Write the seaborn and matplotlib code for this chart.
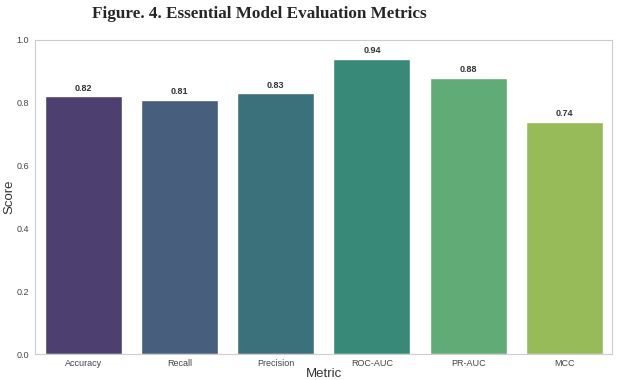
import matplotlib
matplotlib.use("Agg")
import matplotlib.pyplot as plt
import seaborn as sns
import pandas as pd

metrics = ["Accuracy", "Recall", "Precision", "ROC-AUC", "PR-AUC", "MCC"]
scores = [0.82, 0.81, 0.83, 0.94, 0.88, 0.74]

sns.set_style("whitegrid")
plt.rcParams['font.family'] = ['Liberation Sans', 'DejaVu Sans']

df = pd.DataFrame({"Metric": metrics, "Score": scores})

fig, ax = plt.subplots(figsize=(6.4, 3.8), dpi=100)
sns.barplot(data=df, x="Metric", y="Score", hue="Metric", palette="viridis",
            saturation=0.62, legend=False, ax=ax)
ax.grid(False)
ax.set_ylim(0, 1.0)
ax.set_yticks([0.0, 0.2, 0.4, 0.6, 0.8, 1.0])
ax.tick_params(axis='both', labelsize=6.5, colors="#444444", pad=1)
ax.tick_params(axis='x', pad=0)
ax.set_xlabel("Metric", fontsize=9.5, color="#333333", labelpad=0)
ax.set_ylabel("Score", fontsize=9.5, color="#333333", labelpad=1)

# 막대 위 값 표시
for i, v in enumerate(scores):
    ax.text(i, v + 0.012, f"{v:.2f}", ha="center", va="bottom",
            fontsize=6.5, fontweight="bold", color="#333333")

fig.suptitle("Figure. 4. Essential Model Evaluation Metrics", x=0.405, y=0.985,
             fontsize=12.3, fontweight="bold", family="Liberation Serif")
plt.subplots_adjust(left=0.055, right=0.957, top=0.895, bottom=0.068)
plt.savefig("out.png", dpi=100)
